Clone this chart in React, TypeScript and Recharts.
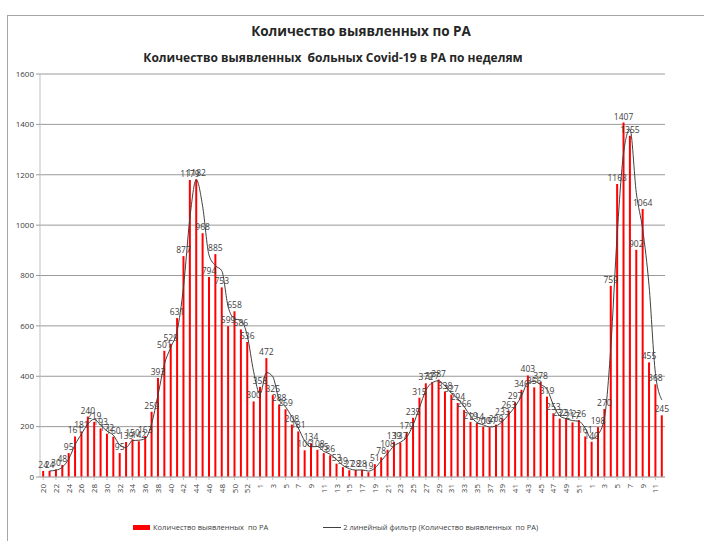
import React from 'react';
import {
    ComposedChart,
    Bar,
    Line,
    XAxis,
    YAxis,
    CartesianGrid,
    LabelList
} from 'recharts';

// недели: 2020 (20-53), 2021 (1-52), 2022 (1-12)
const weeks2020 = [20, 21, 22, 23, 24, 25, 26, 27, 28, 29, 30, 31, 32, 33, 34, 35, 36, 37, 38, 39, 40, 41, 42, 43, 44, 45, 46, 47, 48, 49, 50, 51, 52, 53];
const cases2020 = [24, 24, 30, 48, 95, 161, 181, 240, 219, 193, 172, 160, 95, 139, 150, 142, 163, 259, 393, 501, 529, 631, 877, 1179, 1182, 968, 794, 885, 753, 599, 658, 586, 536, 300];

const weeks2021 = [1, 2, 3, 4, 5, 6, 7, 8, 9, 10, 11, 12, 13, 14, 15, 16, 17, 18, 19, 20, 21, 22, 23, 24, 25, 26, 27, 28, 29, 30, 31, 32, 33, 34, 35, 36, 37, 38, 39, 40, 41, 42, 43, 44, 45, 46, 47, 48, 49, 50, 51, 52];
const cases2021 = [358, 472, 325, 288, 269, 208, 181, 106, 134, 108, 95, 86, 53, 39, 27, 28, 28, 19, 51, 78, 108, 139, 137, 179, 235, 315, 372, 377, 387, 338, 327, 294, 266, 219, 214, 200, 197, 208, 233, 263, 297, 346, 403, 356, 378, 319, 253, 232, 231, 217, 226, 161];

const weeks2022 = [1, 2, 3, 4, 5, 6, 7, 8, 9, 10, 11, 12];
const cases2022 = [140, 198, 270, 759, 1163, 1407, 1355, 902, 1064, 455, 368, 245];

const yTicks = [0, 200, 400, 600, 800, 1000, 1200, 1400, 1600];

const weeks = [...weeks2020, ...weeks2021, ...weeks2022];
const cases = [...cases2020, ...cases2021, ...cases2022];

// линия тренда Excel: скользящее среднее за 2 периода
const data = weeks.map((w, i) => ({
    key: i,
    week: String(w),
    cases: cases[i],
    trend: i === 0 ? null : (cases[i] + cases[i - 1]) / 2
}));

const FONT = '"Open Sans", "Liberation Sans", sans-serif';

const WeekTick = (props: any) => {
    const { x, y, payload } = props;
    return (
        <text
            x={0}
            y={0}
            transform={`translate(${x + 3},${y + 2}) rotate(-90)`}
            textAnchor="end"
            fontSize={8}
            fill="#404040"
            fontFamily={FONT}
        >
            {data[payload.value]?.week}
        </text>
    );
};

export default function App() {
    return (
        <div style={{ position: 'absolute', left: 0, top: 0, width: 704, height: 541, background: '#fff', fontFamily: FONT }}>
            <div style={{ position: 'absolute', left: 7, top: 15, right: 0, bottom: 0, borderTop: '1px solid #a6a6a6', borderLeft: '1px solid #a6a6a6' }} />
            <div style={{ position: 'absolute', left: 0, width: 722, top: 22, textAlign: 'center', fontSize: 13.5, fontWeight: 700, color: '#262626' }}>
                Количество выявленных по РА
            </div>
            <div style={{ position: 'absolute', left: 0, width: 666, top: 49, textAlign: 'center', fontSize: 12, fontWeight: 700, color: '#262626' }}>
                Количество выявленных&nbsp; больных Covid-19 в РА по неделям
            </div>

            <div style={{ position: 'absolute', left: 0, top: 0 }}>
                <ComposedChart
                    width={704}
                    height={541}
                    data={data}
                    margin={{ top: 74, right: 39, bottom: 44, left: 8 }}
                    barCategoryGap="34%"
                >
                    <CartesianGrid vertical={false} stroke="#9a9a9a" />
                    <XAxis
                        dataKey="key"
                        type="category"
                        interval={1}
                        height={20}
                        tick={<WeekTick />}
                        tickLine={{ stroke: '#bfbfbf' }}
                        tickSize={3}
                        axisLine={{ stroke: '#bfbfbf' }}
                    />
                    <YAxis
                        width={32}
                        domain={[0, 1600]}
                        ticks={yTicks}
                        interval={0}
                        tick={{ fontSize: 8, fill: '#404040', fontFamily: FONT }}
                        tickLine={{ stroke: '#9a9a9a' }}
                        tickSize={4}
                        axisLine={{ stroke: '#bfbfbf' }}
                    />
                    <Bar dataKey="cases" fill="#ff0000" isAnimationActive={false}>
                        <LabelList
                            dataKey="cases"
                            position="top"
                            offset={3}
                            style={{ fontSize: 8.5, fill: '#404040', fontFamily: FONT }}
                        />
                    </Bar>
                    <Line
                        dataKey="trend"
                        type="monotone"
                        stroke="#404040"
                        strokeWidth={1}
                        dot={false}
                        connectNulls
                        isAnimationActive={false}
                    />
                </ComposedChart>
            </div>

            <div style={{ position: 'absolute', top: 522, left: 133, display: 'flex', alignItems: 'center', fontSize: 7.5, color: '#404040', whiteSpace: 'nowrap' }}>
                <span style={{ display: 'inline-block', width: 17, height: 5, background: '#ff0000', marginRight: 3 }} />
                <span>Количество выявленных&nbsp; по РА</span>
                <span style={{ display: 'inline-block', width: 18, height: 1, background: '#404040', marginLeft: 55, marginRight: 2 }} />
                <span>2 линейный фильтр (Количество выявленных&nbsp; по РА)</span>
            </div>
        </div>
    );
}
